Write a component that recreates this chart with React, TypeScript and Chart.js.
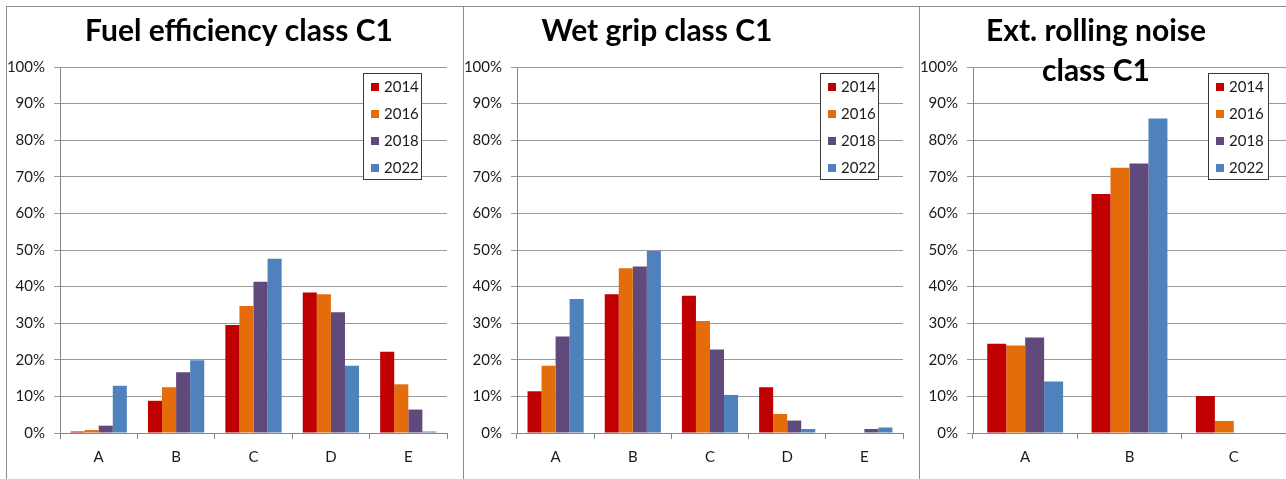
import React, { useEffect, useRef } from 'react';
import { Chart, registerables } from 'chart.js';

Chart.register(...registerables);

// ---- Data ----
const YEARS = ['2014', '2016', '2018', '2022'];
const COLORS = ['#C00000', '#E46C0A', '#604A7B', '#4F81BD'];

const fuelCategories = ['A', 'B', 'C', 'D', 'E'];
const fuel2014 = [0.4, 8.8, 29.5, 38.4, 22.2];
const fuel2016 = [0.8, 12.5, 34.7, 37.9, 13.3];
const fuel2018 = [2.0, 16.6, 41.3, 33.0, 6.4];
const fuel2022 = [12.9, 19.9, 47.6, 18.4, 0.4];

const wetCategories = ['A', 'B', 'C', 'D', 'E'];
const wet2014 = [11.4, 37.9, 37.5, 12.5, 0];
const wet2016 = [18.4, 45.0, 30.6, 5.2, 0];
const wet2018 = [26.4, 45.5, 22.8, 3.4, 1.1];
const wet2022 = [36.6, 49.7, 10.4, 1.1, 1.5];

const noiseCategories = ['A', 'B', 'C'];
const noise2014 = [24.4, 65.3, 10.1];
const noise2016 = [23.9, 72.5, 3.3];
const noise2018 = [26.1, 73.6, 0];
const noise2022 = [14.1, 85.9, 0];

const Y_MIN = 0;
const Y_MAX = 100;
const Y_STEP = 10;

const fuelTitle = ['Fuel efficiency class C1'];
const wetTitle = ['Wet grip class C1'];
const noiseTitle = ['Ext. rolling noise', 'class C1'];

const FONT = 'Lato, "Open Sans", "DejaVu Sans", sans-serif';

const overlayPlugin = {
  id: 'overlay',
  afterDraw(chart: any, _args: any, opts: any) {
    const ctx = chart.ctx as CanvasRenderingContext2D;
    const lg = opts.legend;
    ctx.save();
    // legend box
    ctx.fillStyle = '#ffffff';
    ctx.fillRect(lg.x, lg.y, lg.w, lg.h);
    ctx.strokeStyle = '#3a3a3a';
    ctx.lineWidth = 1;
    ctx.strokeRect(lg.x + 0.5, lg.y + 0.5, lg.w - 1, lg.h - 1);
    ctx.font = '15px ' + FONT;
    ctx.textBaseline = 'middle';
    ctx.textAlign = 'left';
    chart.data.datasets.forEach((ds: any, i: number) => {
      const cy = lg.y + lg.first + i * lg.step;
      ctx.fillStyle = ds.backgroundColor;
      ctx.fillRect(lg.x + lg.sq, Math.round(cy - 4), 8, 8);
      ctx.fillStyle = '#1a1a1a';
      ctx.fillText(ds.label, lg.x + lg.tx, cy + 0.5);
    });
    // title
    const t = opts.title;
    ctx.font = 'bold ' + t.size + 'px ' + FONT;
    ctx.textAlign = 'center';
    ctx.textBaseline = 'alphabetic';
    ctx.fillStyle = '#000000';
    t.lines.forEach((line: string, i: number) => {
      ctx.fillText(line, t.x, t.y + i * t.lh);
    });
    ctx.restore();
  },
};

type PanelProps = {
  categories: string[];
  series: number[][];
  title: string[];
  left: number;
  width: number;
  yWidth: number;
  padRight: number;
  titleX: number;
  legendX: number;
  legendW: number;
};

const CANVAS_TOP = 7;
const CANVAS_H = 472;

function Panel(p: PanelProps) {
  const ref = useRef<HTMLCanvasElement | null>(null);
  useEffect(() => {
    if (!ref.current) return;
    const tickFont = { family: FONT, size: 15 };
    const chart = new Chart(ref.current, {
      type: 'bar',
      data: {
        labels: p.categories,
        datasets: p.series.map((vals, i) => ({
          label: YEARS[i],
          data: vals,
          backgroundColor: COLORS[i],
          borderWidth: 0,
          barPercentage: 1,
          categoryPercentage: 4 / 5.5,
        })),
      },
      options: {
        animation: false,
        responsive: false,
        maintainAspectRatio: false,
        layout: { padding: { top: 60, right: p.padRight, left: 0, bottom: 0 } },
        plugins: {
          legend: { display: false },
          tooltip: { enabled: false },
          title: { display: false },
          overlay: {
            legend: { x: p.legendX, y: 66, w: p.legendW, h: 107, sq: 8, tx: 21, first: 14, step: 27 },
            title: { lines: p.title, x: p.titleX, y: 34, lh: 40, size: 30 },
          },
        } as any,
        scales: {
          x: {
            offset: true,
            grid: {
              offset: true,
              drawOnChartArea: false,
              drawTicks: true,
              tickLength: 6,
              color: '#868686',
            },
            border: { display: true, color: '#868686' },
            ticks: { font: tickFont, color: '#1a1a1a', padding: 9, maxRotation: 0, autoSkip: false },
            afterFit: (s: any) => {
              s.height = 46;
            },
          },
          y: {
            min: Y_MIN,
            max: Y_MAX,
            ticks: {
              stepSize: Y_STEP,
              callback: (v: any) => v + '%',
              font: tickFont,
              color: '#1a1a1a',
              padding: 9,
            },
            grid: { color: '#9a9a9a', tickLength: 6, drawTicks: true },
            border: { display: true, color: '#868686' },
            afterFit: (s: any) => {
              s.width = p.yWidth;
            },
          },
        },
      },
      plugins: [overlayPlugin as any],
    });
    return () => chart.destroy();
  }, []);
  return (
    <canvas
      ref={ref}
      width={p.width}
      height={CANVAS_H}
      style={{ position: 'absolute', left: p.left, top: CANVAS_TOP, width: p.width, height: CANVAS_H }}
    />
  );
}

const lineColor = '#8c8c8c';

export default function App() {
  return (
    <div
      style={{
        position: 'absolute',
        left: 0,
        top: 0,
        width: 1286,
        height: 479,
        overflow: 'hidden',
        background: '#ffffff',
      }}
    >
      <div style={{ position: 'absolute', left: 6, top: 6, width: 1280, height: 1, background: lineColor }} />
      <div style={{ position: 'absolute', left: 6, top: 6, width: 1, height: 473, background: lineColor }} />
      <div style={{ position: 'absolute', left: 463, top: 6, width: 1, height: 473, background: lineColor }} />
      <div style={{ position: 'absolute', left: 919, top: 6, width: 1, height: 473, background: lineColor }} />
      <Panel
        categories={fuelCategories}
        series={[fuel2014, fuel2016, fuel2018, fuel2022]}
        title={fuelTitle}
        left={7}
        width={456}
        yWidth={53}
        padRight={16}
        titleX={232}
        legendX={356}
        legendW={59}
      />
      <Panel
        categories={wetCategories}
        series={[wet2014, wet2016, wet2018, wet2022]}
        title={wetTitle}
        left={464}
        width={455}
        yWidth={53}
        padRight={16}
        titleX={193}
        legendX={356}
        legendW={59}
      />
      <Panel
        categories={noiseCategories}
        series={[noise2014, noise2016, noise2018, noise2022]}
        title={noiseTitle}
        left={921}
        width={365}
        yWidth={52}
        padRight={0}
        titleX={175}
        legendX={287}
        legendW={61}
      />
    </div>
  );
}
